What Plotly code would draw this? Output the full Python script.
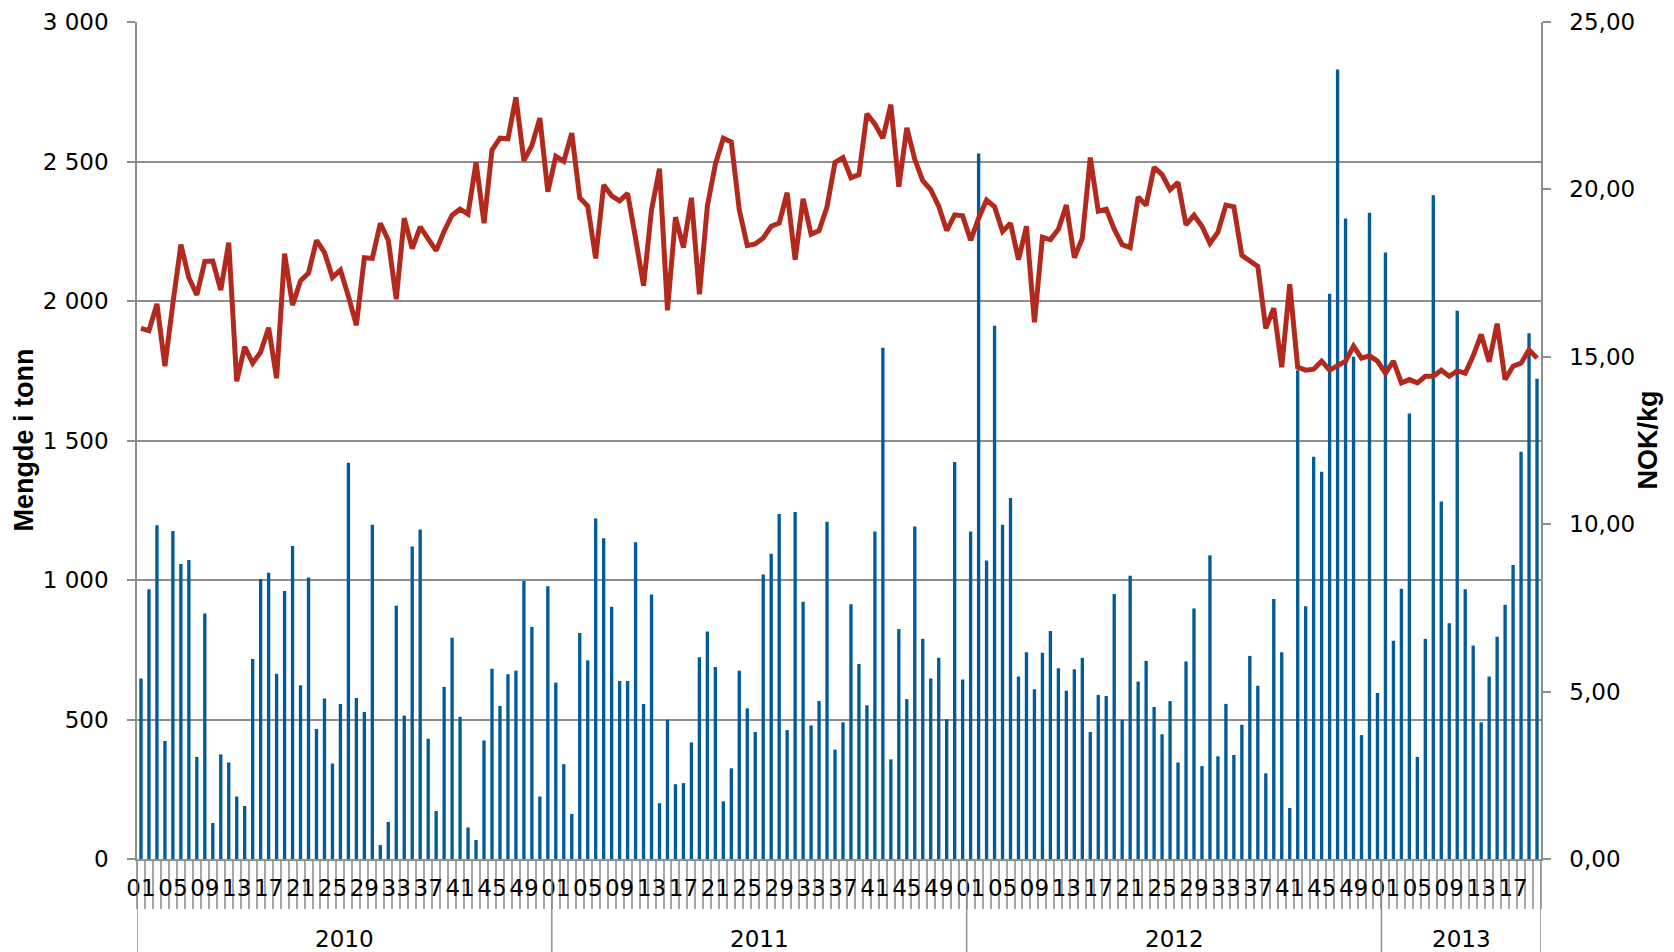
import plotly.graph_objects as go

years = ["2010", "2011", "2012", "2013"]
weeks_per_year = [52, 52, 52, 20]

tonnes_2010 = [647, 967, 1196, 423, 1176, 1057, 1072, 366, 880, 129,
               375, 346, 224, 190, 717, 1004, 1026, 664, 961, 1122,
               623, 1009, 466, 575, 342, 556, 1420, 577, 527, 1198,
               50, 133, 908, 514, 1120, 1181, 431, 172, 617, 793,
               510, 113, 68, 425, 682, 549, 662, 675, 996, 832,
               224, 978]
tonnes_2011 = [632, 340, 161, 810, 712, 1220, 1150, 904, 638, 638,
               1135, 556, 948, 200, 499, 268, 272, 418, 723, 815,
               688, 207, 325, 675, 540, 455, 1020, 1094, 1237, 462,
               1244, 922, 479, 566, 1209, 392, 490, 913, 699, 551,
               1174, 1832, 357, 824, 573, 1192, 789, 647, 721, 501,
               1423, 643]
tonnes_2012 = [1174, 2529, 1070, 1911, 1198, 1294, 654, 741, 608, 739,
               817, 684, 603, 680, 721, 455, 588, 584, 950, 499,
               1015, 636, 710, 545, 447, 566, 346, 708, 898, 333,
               1089, 368, 556, 373, 481, 728, 621, 307, 932, 741,
               183, 1752, 906, 1442, 1388, 2026, 2830, 2296, 1800, 444,
               2316, 595]
tonnes_2013 = [2174, 782, 969, 1597, 366, 789, 2379, 1281, 845, 1965,
               967, 765, 490, 654, 797, 911, 1054, 1460, 1884, 1721]

price_2010 = [15.85, 15.78, 16.58, 14.72, 16.60, 18.35, 17.36, 16.85, 17.85, 17.86,
              16.99, 18.41, 14.27, 15.30, 14.81, 15.14, 15.87, 14.36, 18.08, 16.54,
              17.27, 17.50, 18.48, 18.12, 17.37, 17.59, 16.81, 15.94, 17.96, 17.94,
              18.99, 18.48, 16.72, 19.14, 18.23, 18.88, 18.52, 18.17, 18.75, 19.23,
              19.41, 19.26, 20.81, 18.99, 21.17, 21.53, 21.51, 22.75, 20.86, 21.31,
              22.13, 19.93]
price_2011 = [20.99, 20.84, 21.68, 19.75, 19.50, 17.94, 20.13, 19.81, 19.66, 19.88,
              18.54, 17.12, 19.39, 20.62, 16.39, 19.17, 18.26, 19.75, 16.87, 19.50,
              20.75, 21.53, 21.42, 19.39, 18.32, 18.37, 18.55, 18.90, 18.99, 19.90,
              17.90, 19.72, 18.66, 18.77, 19.48, 20.81, 20.95, 20.35, 20.44, 22.26,
              21.95, 21.53, 22.53, 20.08, 21.84, 20.90, 20.26, 19.99, 19.50, 18.77,
              19.24, 19.21]
price_2012 = [18.48, 19.14, 19.68, 19.48, 18.74, 18.99, 17.90, 18.90, 16.03, 18.57,
              18.50, 18.81, 19.53, 17.96, 18.54, 20.95, 19.35, 19.41, 18.81, 18.35,
              18.26, 19.77, 19.53, 20.66, 20.44, 19.99, 20.21, 18.94, 19.23, 18.90,
              18.39, 18.72, 19.53, 19.48, 18.03, 17.85, 17.70, 15.85, 16.45, 14.69,
              17.17, 14.69, 14.60, 14.63, 14.87, 14.60, 14.72, 14.87, 15.32, 14.96,
              15.03, 14.87]
price_2013 = [14.51, 14.87, 14.22, 14.32, 14.22, 14.42, 14.42, 14.60, 14.42, 14.58,
              14.51, 15.03, 15.67, 14.85, 15.99, 14.32, 14.72, 14.81, 15.21, 14.96]

left_title = "Mengde i tonn"
right_title = "NOK/kg"

tonnes = tonnes_2010 + tonnes_2011 + tonnes_2012 + tonnes_2013
prices = price_2010 + price_2011 + price_2012 + price_2013

week_nums = []
year_of = []
for y, n in zip(years, weeks_per_year):
    for w in range(1, n + 1):
        week_nums.append(w)
        year_of.append(y)
xs = list(range(len(week_nums)))

tickvals = [i for i, w in zip(xs, week_nums) if w % 4 == 1]
ticktext = ["%02d" % week_nums[i] for i in tickvals]

boundaries = [i - 0.5 for i in range(len(xs) + 1)]

BAR = "#035C97"
LINE = "#B22A1E"
GRID = "#8E8E8E"
TICKFONT = dict(family="DejaVu Sans", size=23, color="#000000")

# page body has an 8px margin; figure sized so the plot lands where the reference has it
W, H = 1666, 944
ML, MR, MT, MB = 129, 133, 14, 93
PW = W - ML - MR
PH = H - MT - MB

fig = go.Figure()
fig.add_trace(go.Bar(x=xs, y=tonnes, width=0.42, marker=dict(color=BAR, line=dict(width=0)),
                     yaxis="y", showlegend=False))
fig.add_trace(go.Scatter(x=xs, y=prices, mode="lines", line=dict(color=LINE, width=5),
                         yaxis="y2", showlegend=False))

shapes = []
annotations = []
start = 0
bottom = -MB / PH
for y, n in zip(years, weeks_per_year):
    shapes.append(dict(type="line", xref="x", yref="paper", x0=start - 0.5, x1=start - 0.5,
                       y0=0, y1=bottom, line=dict(color=GRID, width=1.5)))
    annotations.append(dict(text=y, xref="x", yref="paper", x=start + (n - 1) / 2,
                            y=-80 / PH, yanchor="middle", showarrow=False,
                            font=TICKFONT))
    start += n
shapes.append(dict(type="line", xref="x", yref="paper", x0=start - 0.5, x1=start - 0.5,
                   y0=0, y1=bottom, line=dict(color=GRID, width=1.5)))

annotations.append(dict(text="<b>" + left_title + "</b>", xref="paper", yref="paper",
                        x=-114 / PW, y=0.5, xanchor="center", yanchor="middle",
                        textangle=-90, showarrow=False,
                        font=dict(family="Liberation Sans", size=27, color="#000")))
annotations.append(dict(text="<b>" + right_title + "</b>", xref="paper", yref="paper",
                        x=1 + 106 / PW, y=0.5, xanchor="center", yanchor="middle",
                        textangle=-90, showarrow=False,
                        font=dict(family="Liberation Sans", size=27, color="#000")))

fig.update_layout(
    width=W, height=H,
    margin=dict(l=ML, r=MR, t=MT, b=MB, autoexpand=False),
    paper_bgcolor="white", plot_bgcolor="white",
    separators=", ",
    bargap=0.58,
    shapes=shapes,
    annotations=annotations,
    xaxis=dict(
        range=[-0.5, len(xs) - 0.5], automargin=False,
        tickmode="array", tickvals=tickvals, ticktext=ticktext,
        ticks="", ticklabelstandoff=8,
        tickfont=TICKFONT, tickangle=0,
        showgrid=False, zeroline=False,
        showline=True, linecolor=GRID, linewidth=1.5,
        minor=dict(tickmode="array", tickvals=boundaries, ticks="outside",
                   ticklen=48, tickwidth=1.5, tickcolor="#A6A6A6", showgrid=False),
    ),
    yaxis=dict(
        range=[0, 3000], tickmode="linear", tick0=0, dtick=500, automargin=False,
        tickformat=",d", tickfont=dict(family="DejaVu Sans", size=23, color="#000"),
        ticks="outside", ticklen=8, tickcolor=GRID, tickwidth=1.5,
        ticklabelstandoff=14,
        showgrid=True, gridcolor=GRID, gridwidth=1.5,
        showline=True, linecolor=GRID, linewidth=1.5, zeroline=False,
    ),
    yaxis2=dict(
        range=[0, 25], tickmode="linear", tick0=0, dtick=5, automargin=False,
        tickformat=".2f", tickfont=TICKFONT,
        overlaying="y", side="right",
        ticks="outside", ticklen=8, tickcolor=GRID, tickwidth=1.5,
        ticklabelstandoff=14,
        showgrid=False, showline=True, linecolor=GRID, linewidth=1.5, zeroline=False,
    ),
)

fig.write_html("out.html")
